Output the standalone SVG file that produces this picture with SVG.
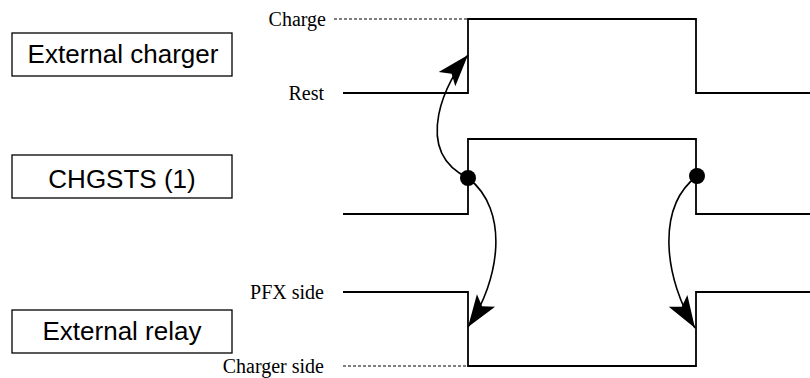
<svg xmlns="http://www.w3.org/2000/svg" width="810" height="378" viewBox="0 0 810 378">
<style>
.box{fill:#fff;stroke:#000;stroke-width:1.3}
.name{font-family:"Liberation Sans",Arial,sans-serif;font-size:26px;fill:#000;text-anchor:middle}
.lvl{font-family:"Liberation Serif","Times New Roman",serif;font-size:20px;fill:#000;text-anchor:end}
.wave{fill:none;stroke:#000;stroke-width:1.8}
.dash{fill:none;stroke:#000;stroke-width:1.2;stroke-dasharray:3,2}
.arc{fill:none;stroke:#000;stroke-width:1.6}
</style>
<defs>
<marker id="ah" markerUnits="userSpaceOnUse" markerWidth="50" markerHeight="50" viewBox="-45 -25 50 50" refX="0" refY="0" orient="auto">
<path d="M0,0 L-32,-11 L-25,0 L-32,11 Z" fill="#000"/>
</marker>
</defs>
<rect width="810" height="378" fill="#fff"/>
<g id="external-charger">
<rect class="box" x="12" y="33" width="220" height="43"/>
<text class="name" x="123" y="63">External charger</text>
</g>
<g id="chgsts">
<rect class="box" x="12" y="155" width="220" height="43"/>
<text class="name" x="122" y="188">CHGSTS (1)</text>
</g>
<g id="external-relay">
<rect class="box" x="12" y="310" width="220" height="43"/>
<text class="name" x="122" y="340">External relay</text>
</g>
<g id="levels">
<text class="lvl" x="326" y="26">Charge</text>
<text class="lvl" x="324" y="100">Rest</text>
<text class="lvl" x="324" y="299">PFX side</text>
<text class="lvl" x="324" y="373">Charger side</text>
</g>
<g id="waveforms">
<line class="dash" x1="334" y1="19" x2="468" y2="19"/>
<path class="wave" d="M343,93 H468 V19 H696 V93 H810"/>
<path class="wave" d="M343,214 H468 V139 H696 V214 H810"/>
<path class="wave" d="M343,292 H468 V366 H696 V292 H810"/>
<line class="dash" x1="343" y1="366" x2="468" y2="366"/>
</g>
<g id="connectors">
<path class="arc" d="M468,178 C410,150 448,78 468,55" marker-end="url(#ah)"/>
<path class="arc" d="M468,178 C510,210 500,280 468,327" marker-end="url(#ah)"/>
<path class="arc" d="M697,176 C655,208 665,280 695,328" marker-end="url(#ah)"/>
<circle cx="468" cy="178" r="8" fill="#000"/>
<circle cx="697" cy="176" r="8" fill="#000"/>
</g>
</svg>
